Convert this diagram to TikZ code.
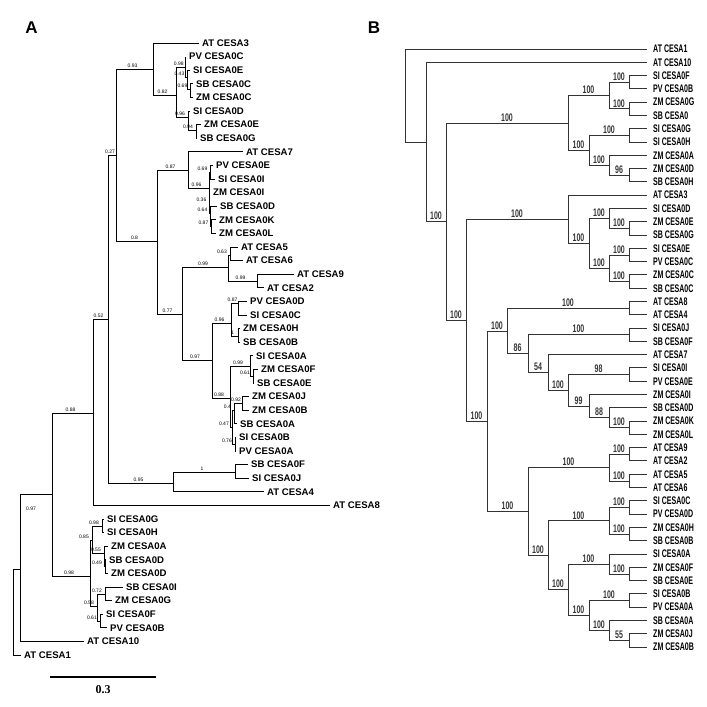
\documentclass[tikz,border=0pt]{standalone}
\usepackage{fontspec}
\setmainfont{Liberation Sans}
\newfontfamily\narrowsans{Liberation Sans}[FakeStretch=0.64]
\newfontfamily\barserif{Liberation Serif}

\begin{document}
\begin{tikzpicture}[
    x=1pt, y=-1pt,
    brA/.style   = {line width=0.8pt, black},
    brB/.style   = {line width=1pt, black!80},
    leafA/.style = {anchor=west, inner xsep=3.5pt, inner ysep=0pt, font=\bfseries\fontsize{9.6}{10}\selectfont},
    leafB/.style = {anchor=west, inner xsep=6pt, inner ysep=0pt, font=\narrowsans\bfseries\fontsize{11}{12}\selectfont},
    bsA/.style   = {pos=.75, above, xshift=-2pt, inner sep=0.8pt, font=\fontsize{5}{5}\selectfont},
    bsL/.style   = {pos=1, anchor=south east, xshift=-2pt, inner sep=0.8pt, font=\fontsize{5}{5}\selectfont},
    bsB/.style   = {pos=.75, above, inner sep=1.2pt, font=\narrowsans\bfseries\fontsize{11}{12}\selectfont},
    panel/.style = {font=\bfseries\fontsize{17}{17}\selectfont}
]
\useasboundingbox (0,0) rectangle (707,707);

% ---- Panel letters ----
\node[panel] (pA) at (31.5,28) {A};
\node[panel] (pB) at (374,28)  {B};

% ==== Tree A ====
% leaves: name / text / label x
\foreach \nm/\txt/\lx [count=\i from 0] in {
    AT3/AT CESA3/202, PV0C/PV CESA0C/189, SI0E/SI CESA0E/193, SB0C/SB CESA0C/196,
    ZM0C/ZM CESA0C/196, SI0D/SI CESA0D/193, ZM0E/ZM CESA0E/204, SB0G/SB CESA0G/200,
    AT7/AT CESA7/246, PV0E/PV CESA0E/216, SI0I/SI CESA0I/218, ZM0I/ZM CESA0I/213,
    SB0D/SB CESA0D/220, ZM0K/ZM CESA0K/219, ZM0L/ZM CESA0L/219, AT5/AT CESA5/241,
    AT6/AT CESA6/246, AT9/AT CESA9/297, AT2/AT CESA2/267, PV0D/PV CESA0D/250,
    SI0C/SI CESA0C/250, ZM0H/ZM CESA0H/243, SB0B/SB CESA0B/243, SI0A/SI CESA0A/256,
    ZM0F/ZM CESA0F/261, SB0E/SB CESA0E/257, ZM0J/ZM CESA0J/252, ZM0B/ZM CESA0B/252,
    SB0A/SB CESA0A/240, SI0B/SI CESA0B/239, PV0A/PV CESA0A/239, SB0F/SB CESA0F/251,
    SI0J/SI CESA0J/252, AT4/AT CESA4/267, AT8/AT CESA8/333, SI0G/SI CESA0G/107,
    SI0H/SI CESA0H/107, ZM0A/ZM CESA0A/111, SB0Dx/SB CESA0D/109, ZM0D/ZM CESA0D/111,
    SB0I/SB CESA0I/126, ZM0G/ZM CESA0G/115, SI0F/SI CESA0F/106, PV0B/PV CESA0B/110,
    AT10/AT CESA10/87, AT1/AT CESA1/24}
    \node[leafA] (a\nm) at ({\lx-3.5},{43+13.6*\i}) {\txt};

% internal nodes
\coordinate (rA)   at (13,569);
\coordinate (a097) at (20,569);
\coordinate (a52)  at (52,494);
\coordinate (a88)  at (93,413);
\coordinate (a52b) at (108,319);
\coordinate (a27)  at (116,155);
\coordinate (a93)  at (153,69);
\coordinate (a82)  at (176,95);
\coordinate (c1)   at (185.5,67);
\coordinate (n043) at (187.5,77);
\coordinate (n069) at (190.5,89);
\coordinate (c2)   at (188,117);
\coordinate (n094) at (196,130);
\coordinate (a08)  at (157,241);
\coordinate (a87)  at (188,170);
\coordinate (n096) at (209,188);
\coordinate (c3a)  at (210.5,172);
\coordinate (n036) at (209.5,203);
\coordinate (n064) at (210.5,213);
\coordinate (n087) at (211.5,226);
\coordinate (a77)  at (182,314);
\coordinate (a99)  at (228,267);
\coordinate (a63)  at (230,255);
\coordinate (a99b) at (257,281);
\coordinate (a97b) at (212,360);
\coordinate (a96c) at (231,323);
\coordinate (a87c) at (238,303);
\coordinate (a1)   at (238,336);
\coordinate (a88b) at (230,398);
\coordinate (a99c) at (250,366);
\coordinate (a61)  at (253,376);
\coordinate (a47)  at (232,427);
\coordinate (a04)  at (234,410);
\coordinate (a92)  at (242,403);
\coordinate (a76)  at (235,444);
\coordinate (a95)  at (173,483);
\coordinate (a1b)  at (235,472);
\coordinate (a98)  at (90,576);
\coordinate (a85)  at (92,540);
\coordinate (a98c) at (102,526);
\coordinate (a55)  at (104,553);
\coordinate (a49)  at (105,566);
\coordinate (a58)  at (97,606);
\coordinate (a72)  at (105,594);
\coordinate (a61b) at (100,621);

% branches
\draw[brA] (rA) |- (aAT1.west) (rA) |- (a097);
\draw[brA] (a097) |- (aAT10.west) (a097) |- (a52);
\node[font=\fontsize{5}{5}\selectfont] (la52) at (31,509) {0.97};
\draw[brA] (a52) |- node[bsA] (la88) {0.88} (a88) (a52) |- node[bsA] (la98) {0.98} (a98);
\draw[brA] (a88) |- node[bsA] (la52b) {0.52} (a52b) (a88) |- (aAT8.west);
\draw[brA] (a52b) |- node[bsA] (la27) {0.27} (a27) (a52b) |- node[bsA] (la95) {0.95} (a95);
\draw[brA] (a27) |- node[bsA] (la93) {0.93} (a93) (a27) |- node[bsA] (la08) {0.8} (a08);
\draw[brA] (a93) |- (aAT3.west) (a93) |- node[bsA] (la82) {0.82} (a82);
\draw[brA] (a82) |- node[bsA] (lc1) {0.98} (c1) (a82) |- node[bsA] (lc2) {0.96} (c2);
\draw[brA] (c1) |- (aPV0C.west) (c1) |- node[bsL] (ln043) {0.43} (n043);
\draw[brA] (n043) |- (aSI0E.west) (n043) |- node[bsL] (ln069) {0.69} (n069);
\draw[brA] (n069) |- (aSB0C.west) (n069) |- (aZM0C.west);
\draw[brA] (c2) |- (aSI0D.west) (c2) |- node[bsL] (ln094) {0.94} (n094);
\draw[brA] (n094) |- (aZM0E.west) (n094) |- (aSB0G.west);
\draw[brA] (a08) |- node[bsA] (la87) {0.87} (a87) (a08) |- node[bsA] (la77) {0.77} (a77);
\draw[brA] (a87) |- (aAT7.west) (a87) |- node[bsA] (ln096) {0.96} (n096);
\draw[brA] (n096) |- node[bsL] (lc3a) {0.69} (c3a) (n096) |- node[bsL] (ln036) {0.36} (n036);
\draw[brA] (c3a) |- (aPV0E.west) (c3a) |- (aSI0I.west);
\draw[brA] (n036) |- (aZM0I.west) (n036) |- node[bsL] (ln064) {0.64} (n064);
\draw[brA] (n064) |- (aSB0D.west) (n064) |- node[bsL] (ln087) {0.87} (n087);
\draw[brA] (n087) |- (aZM0K.west) (n087) |- (aZM0L.west);
\draw[brA] (a77) |- node[bsA] (la99) {0.99} (a99) (a77) |- node[bsA] (la97b) {0.97} (a97b);
\draw[brA] (a99) |- node[bsL] (la63) {0.63} (a63) (a99) |- node[bsA] (la99b) {0.99} (a99b);
\draw[brA] (a63) |- (aAT5.west) (a63) |- (aAT6.west);
\draw[brA] (a99b) |- (aAT9.west) (a99b) |- (aAT2.west);
\draw[brA] (a97b) |- node[bsA] (la96c) {0.96} (a96c) (a97b) |- node[bsA] (la88b) {0.88} (a88b);
\draw[brA] (a96c) |- node[bsA] (la87c) {0.87} (a87c) (a96c) |- node[bsA] (la1) {1} (a1);
\draw[brA] (a87c) |- (aPV0D.west) (a87c) |- (aSI0C.west);
\draw[brA] (a1) |- (aZM0H.west) (a1) |- (aSB0B.west);
\draw[brA] (a88b) |- node[bsA] (la99c) {0.99} (a99c) (a88b) |- node[bsL] (la47) {0.47} (a47);
\draw[brA] (a99c) |- (aSI0A.west) (a99c) |- node[bsL] (la61) {0.61} (a61);
\draw[brA] (a61) |- (aZM0F.west) (a61) |- (aSB0E.west);
\draw[brA] (a47) |- node[bsL] (la04) {0.4} (a04) (a47) |- node[bsL] (la76) {0.76} (a76);
\draw[brA] (a04) |- node[bsA] (la92) {0.92} (a92) (a04) |- (aSB0A.west);
\draw[brA] (a92) |- (aZM0J.west) (a92) |- (aZM0B.west);
\draw[brA] (a76) |- (aSI0B.west) (a76) |- (aPV0A.west);
\draw[brA] (a95) |- node[bsA] (la1b) {1} (a1b) (a95) |- (aAT4.west);
\draw[brA] (a1b) |- (aSB0F.west) (a1b) |- (aSI0J.west);
\draw[brA] (a98) |- node[bsL] (la85) {0.85} (a85) (a98) |- node[bsL] (la58) {0.58} (a58);
\draw[brA] (a85) |- node[bsL] (la98c) {0.98} (a98c) (a85) |- node[bsL] (la55) {0.55} (a55);
\draw[brA] (a98c) |- (aSI0G.west) (a98c) |- (aSI0H.west);
\draw[brA] (a55) |- (aZM0A.west) (a55) |- node[bsL] (la49) {0.49} (a49);
\draw[brA] (a49) |- (aSB0Dx.west) (a49) |- (aZM0D.west);
\draw[brA] (a58) |- node[bsL] (la72) {0.72} (a72) (a58) |- node[bsL] (la61b) {0.61} (a61b);
\draw[brA] (a72) |- (aSB0I.west) (a72) |- (aZM0G.west);
\draw[brA] (a61b) |- (aSI0F.west) (a61b) |- (aPV0B.west);

% ---- Scale bar ----
\coordinate (sbL) at (50,677);
\coordinate (sbR) at (156,677);
\draw[line width=1.5pt] (sbL) -- (sbR);
\node[font=\barserif\bfseries\fontsize{12}{12}\selectfont] (sbT) at (103,690) {0.3};

% ==== Tree B ====
\foreach \nm/\txt [count=\i from 0] in {
    AT1/AT CESA1, AT10/AT CESA10, SI0F/SI CESA0F, PV0B/PV CESA0B, ZM0G/ZM CESA0G,
    SB0/SB CESA0, SI0G/SI CESA0G, SI0H/SI CESA0H, ZM0A/ZM CESA0A, ZM0D/ZM CESA0D,
    SB0H/SB CESA0H, AT3/AT CESA3, SI0D/SI CESA0D, ZM0E/ZM CESA0E, SB0G/SB CESA0G,
    SI0E/SI CESA0E, PV0C/PV CESA0C, ZM0C/ZM CESA0C, SB0C/SB CESA0C, AT8/AT CESA8,
    AT4/AT CESA4, SI0J/SI CESA0J, SB0F/SB CESA0F, AT7/AT CESA7, SI0I/SI CESA0I,
    PV0E/PV CESA0E, ZM0I/ZM CESA0I, SB0D/SB CESA0D, ZM0K/ZM CESA0K, ZM0L/ZM CESA0L,
    AT9/AT CESA9, AT2/AT CESA2, AT5/AT CESA5, AT6/AT CESA6, SI0C/SI CESA0C,
    PV0D/PV CESA0D, ZM0H/ZM CESA0H, SB0B/SB CESA0B, SI0A/SI CESA0A, ZM0F/ZM CESA0F,
    SB0E/SB CESA0E, SI0B/SI CESA0B, PV0A/PV CESA0A, SB0A/SB CESA0A, ZM0J/ZM CESA0J,
    ZM0B/ZM CESA0B}
    \node[leafB] (b\nm) at (647,{49+13.29*\i}) {\txt};

% internal nodes
\coordinate (bRoot) at (405,95.5);
\coordinate (bR2)   at (426,142);
\coordinate (bX)    at (446,221.7);
\coordinate (bC1)   at (568,123);
\coordinate (bC1a)  at (609,95.6);
\coordinate (bSIpv) at (629,82.2);
\coordinate (bZMsb) at (629,108.9);
\coordinate (bC1b)  at (589,150.4);
\coordinate (bSIgh) at (629,135.4);
\coordinate (bZM)   at (609,165.3);
\coordinate (b96)   at (629,175.3);
\coordinate (bY)    at (466,320.3);
\coordinate (bC2)   at (568,219.3);
\coordinate (bC2b)  at (589,243.4);
\coordinate (bC2c)  at (609,218.5);
\coordinate (bZEG)  at (629,228.5);
\coordinate (bC2d)  at (609,268.3);
\coordinate (bSEPV) at (629,255);
\coordinate (bZSC)  at (629,281.6);
\coordinate (bZ)    at (487,421.3);
\coordinate (bW)    at (507,331);
\coordinate (bAT84) at (629,308.2);
\coordinate (b86)   at (528,353.7);
\coordinate (bJF)   at (629,334.8);
\coordinate (b54)   at (548,372.6);
\coordinate (b100c) at (568,390.4);
\coordinate (b98)   at (629,374.7);
\coordinate (b99)   at (589,406.2);
\coordinate (b88)   at (609,417.8);
\coordinate (bKL)   at (629,427.8);
\coordinate (bV)    at (528,511.6);
\coordinate (bAT)   at (609,467.7);
\coordinate (b92)   at (629,454.4);
\coordinate (b56)   at (629,481);
\coordinate (bU)    at (548,555.4);
\coordinate (bT)    at (609,520.9);
\coordinate (bCD)   at (629,507.6);
\coordinate (bHB)   at (629,534.1);
\coordinate (bS)    at (568,589.8);
\coordinate (bR)    at (609,564);
\coordinate (bFE)   at (629,574);
\coordinate (bQ)    at (589,615.5);
\coordinate (bBA)   at (629,600.6);
\coordinate (bP)    at (609,630.5);
\coordinate (b55)   at (629,640.5);

% branches
\draw[brB] (bRoot) |- (bAT1.west) (bRoot) |- (bR2);
\draw[brB] (bR2) |- (bAT10.west) (bR2) |- node[bsB] (lbX) {100} (bX);
\draw[brB] (bX) |- node[bsB] (lbC1) {100} (bC1) (bX) |- node[bsB] (lbY) {100} (bY);
\draw[brB] (bC1) |- node[bsB] (lbC1a) {100} (bC1a) (bC1) |- node[bsB] (lbC1b) {100} (bC1b);
\draw[brB] (bC1a) |- node[bsB] (lbSIpv) {100} (bSIpv) (bC1a) |- node[bsB] (lbZMsb) {100} (bZMsb);
\draw[brB] (bSIpv) |- (bSI0F.west) (bSIpv) |- (bPV0B.west);
\draw[brB] (bZMsb) |- (bZM0G.west) (bZMsb) |- (bSB0.west);
\draw[brB] (bC1b) |- node[bsB] (lbSIgh) {100} (bSIgh) (bC1b) |- node[bsB] (lbZM) {100} (bZM);
\draw[brB] (bSIgh) |- (bSI0G.west) (bSIgh) |- (bSI0H.west);
\draw[brB] (bZM) |- (bZM0A.west) (bZM) |- node[bsB] (lb96) {96} (b96);
\draw[brB] (b96) |- (bZM0D.west) (b96) |- (bSB0H.west);
\draw[brB] (bY) |- node[bsB] (lbC2) {100} (bC2) (bY) |- node[bsB] (lbZ) {100} (bZ);
\draw[brB] (bC2) |- (bAT3.west) (bC2) |- node[bsB] (lbC2b) {100} (bC2b);
\draw[brB] (bC2b) |- node[bsB] (lbC2c) {100} (bC2c) (bC2b) |- node[bsB] (lbC2d) {100} (bC2d);
\draw[brB] (bC2c) |- (bSI0D.west) (bC2c) |- node[bsB] (lbZEG) {100} (bZEG);
\draw[brB] (bZEG) |- (bZM0E.west) (bZEG) |- (bSB0G.west);
\draw[brB] (bC2d) |- node[bsB] (lbSEPV) {100} (bSEPV) (bC2d) |- node[bsB] (lbZSC) {100} (bZSC);
\draw[brB] (bSEPV) |- (bSI0E.west) (bSEPV) |- (bPV0C.west);
\draw[brB] (bZSC) |- (bZM0C.west) (bZSC) |- (bSB0C.west);
\draw[brB] (bZ) |- node[bsB] (lbW) {100} (bW) (bZ) |- node[bsB] (lbV) {100} (bV);
\draw[brB] (bW) |- node[bsB] (lbAT84) {100} (bAT84) (bW) |- node[bsB] (lb86) {86} (b86);
\draw[brB] (bAT84) |- (bAT8.west) (bAT84) |- (bAT4.west);
\draw[brB] (b86) |- node[bsB] (lbJF) {100} (bJF) (b86) |- node[bsB] (lb54) {54} (b54);
\draw[brB] (bJF) |- (bSI0J.west) (bJF) |- (bSB0F.west);
\draw[brB] (b54) |- (bAT7.west) (b54) |- node[bsB] (lb100c) {100} (b100c);
\draw[brB] (b100c) |- node[bsB] (lb98) {98} (b98) (b100c) |- node[bsB] (lb99) {99} (b99);
\draw[brB] (b98) |- (bSI0I.west) (b98) |- (bPV0E.west);
\draw[brB] (b99) |- (bZM0I.west) (b99) |- node[bsB] (lb88) {88} (b88);
\draw[brB] (b88) |- (bSB0D.west) (b88) |- node[bsB] (lbKL) {100} (bKL);
\draw[brB] (bKL) |- (bZM0K.west) (bKL) |- (bZM0L.west);
\draw[brB] (bV) |- node[bsB] (lbAT) {100} (bAT) (bV) |- node[bsB] (lbU) {100} (bU);
\draw[brB] (bAT) |- node[bsB] (lb92) {100} (b92) (bAT) |- node[bsB] (lb56) {100} (b56);
\draw[brB] (b92) |- (bAT9.west) (b92) |- (bAT2.west);
\draw[brB] (b56) |- (bAT5.west) (b56) |- (bAT6.west);
\draw[brB] (bU) |- node[bsB] (lbT) {100} (bT) (bU) |- node[bsB] (lbS) {100} (bS);
\draw[brB] (bT) |- node[bsB] (lbCD) {100} (bCD) (bT) |- node[bsB] (lbHB) {100} (bHB);
\draw[brB] (bCD) |- (bSI0C.west) (bCD) |- (bPV0D.west);
\draw[brB] (bHB) |- (bZM0H.west) (bHB) |- (bSB0B.west);
\draw[brB] (bS) |- node[bsB] (lbR) {100} (bR) (bS) |- node[bsB] (lbQ) {100} (bQ);
\draw[brB] (bR) |- (bSI0A.west) (bR) |- node[bsB] (lbFE) {100} (bFE);
\draw[brB] (bFE) |- (bZM0F.west) (bFE) |- (bSB0E.west);
\draw[brB] (bQ) |- node[bsB] (lbBA) {100} (bBA) (bQ) |- node[bsB] (lbP) {100} (bP);
\draw[brB] (bBA) |- (bSI0B.west) (bBA) |- (bPV0A.west);
\draw[brB] (bP) |- (bSB0A.west) (bP) |- node[bsB] (lb55) {55} (b55);
\draw[brB] (b55) |- (bZM0J.west) (b55) |- (bZM0B.west);

\end{tikzpicture}
\end{document}
